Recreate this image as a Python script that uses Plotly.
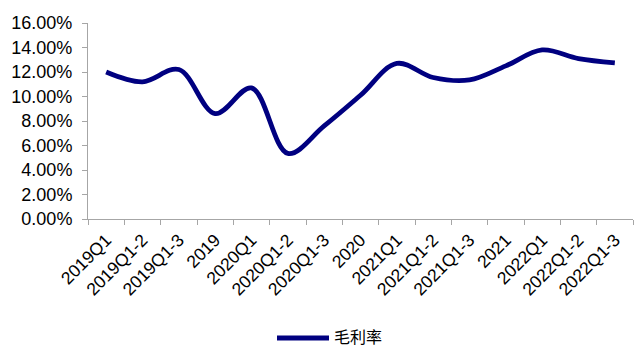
import plotly.graph_objects as go

categories = ["2019Q1", "2019Q1-2", "2019Q1-3", "2019", "2020Q1", "2020Q1-2", "2020Q1-3",
              "2020", "2021Q1", "2021Q1-2", "2021Q1-3", "2021", "2022Q1", "2022Q1-2", "2022Q1-3"]
gross_margin = [12.0, 11.2, 12.2, 8.6, 10.7, 5.35, 7.6, 10.1, 12.7, 11.55, 11.35, 12.5, 13.8, 13.1, 12.75]
series_name = "毛利率"
gross_margin_frac = [v / 100 for v in gross_margin]
y_ticks = [i * 0.02 for i in range(9)]

W, H = 635, 347
L, R, T, B = 88, 2, 23, 128
pw = W - L - R
ph = H - T - B

def px_x(p):
    return (p - L) / pw

def px_y(p):
    return (H - B - p) / ph

fig = go.Figure()
fig.add_trace(go.Scatter(
    x=categories, y=gross_margin_frac, mode="lines", name=series_name,
    line=dict(color="#000080", width=4.8, shape="spline", smoothing=1.0),
    showlegend=False,
))

# legend drawn manually (longer sample line like the reference)
fig.add_shape(type="line", xref="paper", yref="paper",
              x0=px_x(277), x1=px_x(329), y0=px_y(338), y1=px_y(338),
              line=dict(color="#000080", width=5))
fig.add_annotation(xref="paper", yref="paper", x=px_x(333), y=px_y(336),
                   text=series_name, showarrow=False, xanchor="left", yanchor="middle",
                   borderpad=0,
                   font=dict(family="Noto Sans CJK SC", size=16, color="#000000"))

fig.update_layout(
    width=W, height=H,
    margin=dict(l=L, r=R, t=T, b=B),
    paper_bgcolor="white", plot_bgcolor="white",
    font=dict(family="Liberation Sans, Arial, sans-serif", size=18, color="#000000"),
    showlegend=False,
    xaxis=dict(type="category", range=[-0.5, len(categories) - 0.5],
               showline=True, linecolor="#a6a6a6", linewidth=1,
               ticks="outside", tickson="boundaries", ticklen=5, tickcolor="#a6a6a6",
               tickangle=-45, showgrid=False, tickfont=dict(size=17.5),
               ticklabelstandoff=3),
    yaxis=dict(range=[0, 0.16], tickvals=y_ticks, tickformat=".2%",
               showline=True, linecolor="#a6a6a6", linewidth=1,
               ticks="outside", ticklen=5, tickcolor="#a6a6a6",
               showgrid=False, zeroline=False, tickfont=dict(size=18),
               ticklabelstandoff=6),
)

fig.write_html("out.html")
